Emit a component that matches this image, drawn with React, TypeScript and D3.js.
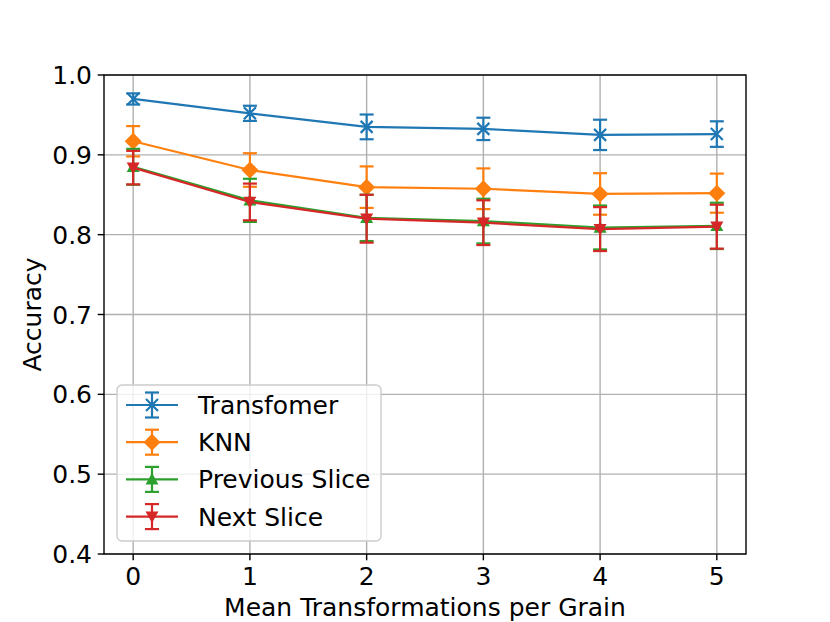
import React from 'react';
import * as d3 from 'd3';

// Chart data
const xValues = [0, 1, 2, 3, 4, 5];
const yTicks = [0.4, 0.5, 0.6, 0.7, 0.8, 0.9, 1.0];

const seriesNames = ['Transfomer', 'KNN', 'Previous Slice', 'Next Slice'];
const transformerMean = [0.970, 0.952, 0.935, 0.9325, 0.925, 0.926];
const transformerErr = [0.007, 0.0095, 0.0155, 0.014, 0.019, 0.016];
const knnMean = [0.917, 0.881, 0.8595, 0.8575, 0.851, 0.852];
const knnErr = [0.019, 0.021, 0.026, 0.0255, 0.026, 0.0245];
const prevMean = [0.885, 0.843, 0.821, 0.817, 0.809, 0.811];
const prevErr = [0.0225, 0.027, 0.029, 0.028, 0.0275, 0.029];
const nextMean = [0.884, 0.841, 0.820, 0.815, 0.807, 0.810];
const nextErr = [0.021, 0.023, 0.030, 0.028, 0.0275, 0.0275];

const colors = ['#1f77b4', '#ff7f0e', '#2ca02c', '#d62728'];
const markers = ['x', 'diamond', 'triUp', 'triDown'];

const W = 830;
const H = 622;
const margin = { left: 104, right: 84, top: 75, bottom: 68 };
const FONT = '"DejaVu Sans", sans-serif';
const FS = 25;

const Marker: React.FC<{ kind: string; x: number; y: number; color: string }> = ({ kind, x, y, color }) => {
  if (kind === 'x') {
    const r = 6;
    return (
      <path
        d={`M${x - r},${y - r}L${x + r},${y + r}M${x - r},${y + r}L${x + r},${y - r}`}
        stroke={color}
        strokeWidth={2.2}
        fill="none"
      />
    );
  }
  if (kind === 'diamond') {
    const r = 8.5;
    return <path d={`M${x},${y - r}L${x + r},${y}L${x},${y + r}L${x - r},${y}Z`} fill={color} />;
  }
  const r = 6.5;
  if (kind === 'triUp') {
    return <path d={`M${x},${y - r}L${x + r},${y + r * 0.8}L${x - r},${y + r * 0.8}Z`} fill={color} />;
  }
  return <path d={`M${x},${y + r}L${x + r},${y - r * 0.8}L${x - r},${y - r * 0.8}Z`} fill={color} />;
};

export default function App() {
  const series = [
    { mean: transformerMean, err: transformerErr },
    { mean: knnMean, err: knnErr },
    { mean: prevMean, err: prevErr },
    { mean: nextMean, err: nextErr },
  ];

  const x = d3.scaleLinear().domain([-0.25, 5.25]).range([margin.left, W - margin.right]);
  const y = d3.scaleLinear().domain([0.4, 1.0]).range([H - margin.bottom, margin.top]);

  const line = d3
    .line<number>()
    .x((d, i) => x(xValues[i]))
    .y(d => y(d));

  const capW = 7;
  const lw = 2.2;

  const plotLeft = margin.left;
  const plotRight = W - margin.right;
  const plotTop = margin.top;
  const plotBottom = H - margin.bottom;

  // legend layout
  const legX = 117;
  const legY = 385;
  const legRow = 37.2;

  return (
    <svg
      width={W}
      height={H}
      style={{ position: 'absolute', left: 0, top: 0, background: '#fff' }}
      fontFamily={FONT}
    >
      <rect width={W} height={H} fill="#fff" />

      {/* grid */}
      {xValues.map(v => (
        <line key={'gx' + v} x1={x(v)} x2={x(v)} y1={plotTop} y2={plotBottom} stroke="#b0b0b0" strokeWidth={1.4} />
      ))}
      {yTicks.map(v => (
        <line key={'gy' + v} x1={plotLeft} x2={plotRight} y1={y(v)} y2={y(v)} stroke="#b0b0b0" strokeWidth={1.4} />
      ))}

      {/* series */}
      {series.map((s, si) => (
        <g key={seriesNames[si]}>
          <path d={line(s.mean) || ''} fill="none" stroke={colors[si]} strokeWidth={lw} />
          {s.mean.map((m, i) => {
            const cx = x(xValues[i]);
            const y1 = y(m + s.err[i]);
            const y2 = y(m - s.err[i]);
            return (
              <g key={i} stroke={colors[si]} strokeWidth={lw}>
                <line x1={cx} x2={cx} y1={y1} y2={y2} />
                <line x1={cx - capW} x2={cx + capW} y1={y1} y2={y1} />
                <line x1={cx - capW} x2={cx + capW} y1={y2} y2={y2} />
              </g>
            );
          })}
          {s.mean.map((m, i) => (
            <Marker key={'m' + i} kind={markers[si]} x={x(xValues[i])} y={y(m)} color={colors[si]} />
          ))}
        </g>
      ))}

      {/* spines */}
      <rect
        x={plotLeft}
        y={plotTop}
        width={plotRight - plotLeft}
        height={plotBottom - plotTop}
        fill="none"
        stroke="#000"
        strokeWidth={1.4}
      />

      {/* x ticks */}
      {xValues.map(v => (
        <g key={'tx' + v}>
          <line x1={x(v)} x2={x(v)} y1={plotBottom} y2={plotBottom + 6.3} stroke="#000" strokeWidth={1.4} />
          <text x={x(v)} y={plotBottom + 31} textAnchor="middle" fontSize={FS} fill="#000">
            {v}
          </text>
        </g>
      ))}

      {/* y ticks */}
      {yTicks.map(v => (
        <g key={'ty' + v}>
          <line x1={plotLeft - 6.3} x2={plotLeft} y1={y(v)} y2={y(v)} stroke="#000" strokeWidth={1.4} />
          <text x={plotLeft - 12} y={y(v)} dy="0.36em" textAnchor="end" fontSize={FS} fill="#000">
            {v.toFixed(1)}
          </text>
        </g>
      ))}

      {/* axis labels */}
      <text x={(plotLeft + plotRight) / 2} y={616} textAnchor="middle" fontSize={FS} fill="#000">
        Mean Transformations per Grain
      </text>
      <text
        transform={`translate(41,${(plotTop + plotBottom) / 2}) rotate(-90)`}
        textAnchor="middle"
        fontSize={FS}
        fill="#000"
      >
        Accuracy
      </text>

      {/* legend */}
      <rect
        x={legX}
        y={legY}
        width={264}
        height={156}
        rx={5}
        fill="#fff"
        fillOpacity={0.8}
        stroke="#cccccc"
        strokeWidth={1.4}
      />
      {seriesNames.map((name, i) => {
        const cy = legY + 20 + i * legRow;
        const cx = 152;
        return (
          <g key={'leg' + name}>
            <line x1={126} x2={178} y1={cy} y2={cy} stroke={colors[i]} strokeWidth={lw} />
            <g stroke={colors[i]} strokeWidth={lw}>
              <line x1={cx} x2={cx} y1={cy - 12.5} y2={cy + 12.5} />
              <line x1={cx - capW} x2={cx + capW} y1={cy - 12.5} y2={cy - 12.5} />
              <line x1={cx - capW} x2={cx + capW} y1={cy + 12.5} y2={cy + 12.5} />
            </g>
            <Marker kind={markers[i]} x={cx} y={cy} color={colors[i]} />
            <text x={198} y={cy} dy="0.36em" fontSize={FS} fill="#000">
              {name}
            </text>
          </g>
        );
      })}
    </svg>
  );
}
